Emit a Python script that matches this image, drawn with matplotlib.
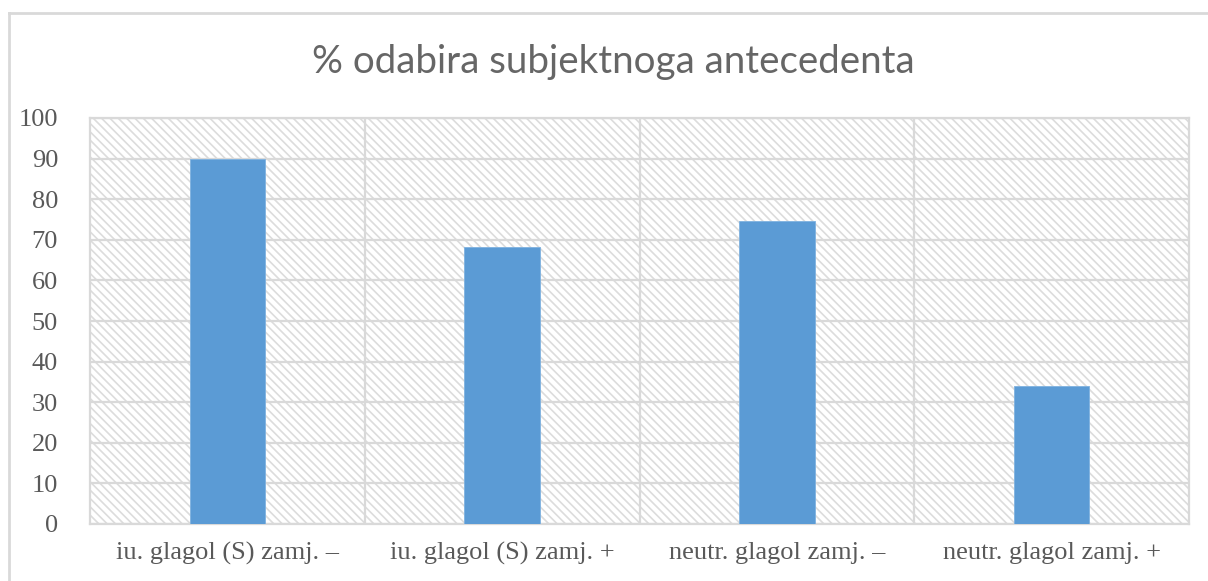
import matplotlib
matplotlib.use("Agg")
import matplotlib.pyplot as plt
from matplotlib.patches import Rectangle
from matplotlib.lines import Line2D

# Share of subject-antecedent choices per condition
categories = ["iu. glagol (S) zamj. –", "iu. glagol (S) zamj. +",
              "neutr. glagol zamj. –", "neutr. glagol zamj. +"]
values = [90, 68.2, 74.7, 34]
yticks = [0, 10, 20, 30, 40, 50, 60, 70, 80, 90, 100]
title = "% odabira subjektnoga antecedenta"

W, H = 1208, 581
fig = plt.figure(figsize=(W / 100, H / 100), dpi=100)
fig.patch.set_facecolor("white")

grid_c = "#d9d9d9"
text_c = "#595959"
bar_c = "#5b9bd5"

# chart frame (runs off the right and bottom edges)
fx0, fy0 = 9 / W, 1 - 13 / H
fig.add_artist(Line2D([fx0, fx0], [fy0, -0.1], transform=fig.transFigure,
                      color=grid_c, lw=2))
fig.add_artist(Line2D([fx0, 1.1], [fy0, fy0], transform=fig.transFigure,
                      color=grid_c, lw=2))

left, right, top, bottom = 90, 1189, 118, 524
ax = fig.add_axes([left / W, 1 - bottom / H, (right - left) / W, (bottom - top) / H])

plt.rcParams["hatch.color"] = "#dcdcdc"
plt.rcParams["hatch.linewidth"] = 1.2

n = len(categories)
# hatched plot-area background
ax.add_patch(Rectangle((0, 0), 1, 1, transform=ax.transAxes, facecolor="white",
                       edgecolor="#dcdcdc", hatch="\\" * 4, lw=0, zorder=0))

x = list(range(n))
ax.bar(x, values, width=0.275, color=bar_c, edgecolor="#7fb2e0", lw=0.6, zorder=3)

ax.set_xlim(-0.5, n - 0.5)
ax.set_ylim(0, 100)
ax.set_yticks(yticks)
ax.set_xticks(x)
ax.set_xticklabels(categories)

for y in yticks:
    ax.axhline(y, color=grid_c, lw=1.6, zorder=1)
for b in range(1, n):
    ax.axvline(b - 0.5, color=grid_c, lw=1.6, zorder=1)

for s in ax.spines.values():
    s.set_color(grid_c)
    s.set_linewidth(1.6)

ax.tick_params(axis="both", length=0, colors=text_c, labelsize=19)
ax.tick_params(axis="y", pad=23)
ax.tick_params(axis="x", pad=13)
for lab in ax.get_xticklabels() + ax.get_yticklabels():
    lab.set_fontfamily("Liberation Serif")
    lab.set_color(text_c)

fig.text(613 / W, 1 - 62 / H, title, ha="center", va="center",
         fontsize=27.7, color="#666666", family="Lato")

fig.savefig("out.png", dpi=100)
